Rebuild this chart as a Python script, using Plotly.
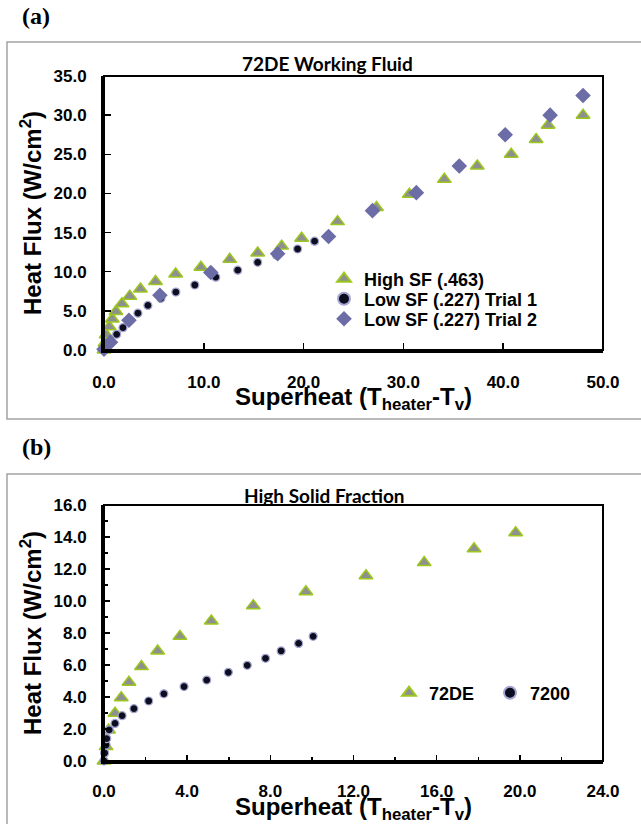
import plotly.graph_objects as go

W, H = 641, 824

# ---------------- data ----------------
# Panel (a): 72DE working fluid
high_sf_x = [0.0, 0.1, 0.22, 0.53, 0.83, 1.2, 1.8, 2.58, 3.65, 5.16, 7.18, 9.71, 12.6,
             15.4, 17.8, 19.8, 23.4, 27.3, 30.6, 34.1, 37.4, 40.8, 43.3, 44.5, 48.0]
high_sf_y = [0.0, 0.9, 1.94, 2.98, 3.96, 4.92, 5.9, 6.88, 7.79, 8.75, 9.71, 10.58, 11.58,
             12.4, 13.27, 14.27, 16.4, 18.2, 19.9, 21.8, 23.5, 25.0, 26.9, 28.7, 30.0]

low_sf_t1_x = [0.0, 0.5, 1.27, 1.9, 3.4, 4.4, 5.7, 7.2, 9.1, 11.2, 13.4, 15.4, 17.3, 19.4, 21.1]
low_sf_t1_y = [0.0, 1.0, 2.0, 2.85, 4.7, 5.7, 6.6, 7.4, 8.3, 9.3, 10.2, 11.2, 12.1, 12.9, 13.9]

low_sf_t2_x = [0.0, 0.65, 2.5, 5.6, 10.7, 17.4, 22.5, 26.9, 31.3, 35.6, 40.2, 44.7, 48.0]
low_sf_t2_y = [0.1, 1.0, 3.8, 7.0, 9.9, 12.3, 14.5, 17.8, 20.1, 23.5, 27.5, 30.0, 32.5]

# Panel (b): high solid fraction
de72_x = [0.0, 0.1, 0.22, 0.53, 0.83, 1.2, 1.8, 2.58, 3.65, 5.16, 7.18, 9.71, 12.6, 15.4, 17.8, 19.8]
de72_y = [0.0, 0.9, 1.94, 2.98, 3.96, 4.92, 5.9, 6.88, 7.79, 8.75, 9.71, 10.58, 11.58, 12.4, 13.27, 14.27]

w7200_x = [0.0, 0.03, 0.1, 0.13, 0.25, 0.53, 0.87, 1.44, 2.15, 2.88, 3.85, 4.94, 5.98, 6.89,
           7.77, 8.52, 9.36, 10.06]
w7200_y = [0.0, 0.5, 1.0, 1.4, 1.94, 2.35, 2.83, 3.27, 3.75, 4.2, 4.65, 5.06, 5.54, 5.98,
           6.42, 6.88, 7.35, 7.79]

# ---------------- styles ----------------
TRI = dict(symbol="triangle-up", size=12, color="#8f8f8f", line=dict(color="#9cc81e", width=1.5))
DOT = dict(symbol="circle", size=8, color="#0d0d20", line=dict(color="#a6a6d2", width=1.2))
DIA = dict(symbol="diamond", size=12, color="#6c6ca6", line=dict(color="#6c6ca6", width=0))

AX = "Liberation Sans"
TICKF = dict(family=AX, size=17, color="black", weight="bold")
LEGF = dict(family=AX, size=18, color="black", weight="bold")


def px_x(p):
    return p / W


def px_y(p):
    return 1 - p / H


fig = go.Figure()

fig.add_trace(go.Scatter(x=high_sf_x, y=high_sf_y, mode="markers", marker=TRI,
                         name="High SF (.463)", xaxis="x", yaxis="y", legend="legend",
                         cliponaxis=False))
fig.add_trace(go.Scatter(x=low_sf_t1_x, y=low_sf_t1_y, mode="markers", marker=DOT,
                         name="Low SF (.227) Trial 1", xaxis="x", yaxis="y", legend="legend2",
                         cliponaxis=False))
fig.add_trace(go.Scatter(x=low_sf_t2_x, y=low_sf_t2_y, mode="markers", marker=DIA,
                         name="Low SF (.227) Trial 2", xaxis="x", yaxis="y", legend="legend3",
                         cliponaxis=False))

fig.add_trace(go.Scatter(x=de72_x, y=de72_y, mode="markers", marker=TRI,
                         name="72DE", xaxis="x2", yaxis="y2", legend="legend4",
                         cliponaxis=False))
fig.add_trace(go.Scatter(x=w7200_x, y=w7200_y, mode="markers", marker=DOT,
                         name="7200", xaxis="x2", yaxis="y2", legend="legend5",
                         cliponaxis=False))

xdom = [px_x(104), px_x(603)]
ydom1 = [px_y(350), px_y(76)]
ydom2 = [px_y(761), px_y(505)]

common = dict(showgrid=False, zeroline=False, showline=True, linecolor="black",
              linewidth=3, ticks="inside", tickcolor="black", tickwidth=1.5,
              tickfont=TICKF, tickformat=".1f", fixedrange=True, automargin=False)

fig.update_layout(
    width=W, height=H,
    margin=dict(l=0, r=0, t=0, b=0, autoexpand=False),
    paper_bgcolor="white", plot_bgcolor="white",
    xaxis=dict(domain=xdom, range=[0, 50], dtick=10, tick0=0, anchor="y",
               ticklen=7, ticklabelstandoff=15, **common),
    yaxis=dict(domain=ydom1, range=[0, 35], dtick=5, tick0=0, anchor="x",
               ticklen=7, ticklabelstandoff=11, **common),
    xaxis2=dict(domain=xdom, range=[0, 24], dtick=4, tick0=0, anchor="y2",
                ticklen=6, ticklabelstandoff=13,
                minor=dict(dtick=2, ticks="inside", ticklen=4, tickcolor="black", tickwidth=1.5),
                **common),
    yaxis2=dict(domain=ydom2, range=[0, 16], dtick=2, tick0=0, anchor="x2",
                ticklen=6, ticklabelstandoff=11,
                minor=dict(dtick=1, ticks="inside", ticklen=4, tickcolor="black", tickwidth=1.5),
                **common),
    showlegend=True,
)

# one legend per entry so each item sits where the reference has it
leg_pos = {
    "legend": (324, 279),
    "legend2": (324, 299),
    "legend3": (324, 319),
    "legend4": (389, 693),
    "legend5": (490, 693),
}
for k, (lx, ly) in leg_pos.items():
    fig.update_layout({k: dict(x=px_x(lx), y=px_y(ly), xanchor="left", yanchor="middle",
                               font=LEGF, bgcolor="rgba(0,0,0,0)", borderwidth=0,
                               itemsizing="constant")})

shapes = []
# outer panel frames
shapes.append(dict(type="rect", xref="paper", yref="paper",
                   x0=px_x(7), x1=1.02, y0=px_y(419), y1=px_y(42),
                   line=dict(color="#a3a3a3", width=1.5), fillcolor="rgba(0,0,0,0)", layer="below"))
shapes.append(dict(type="rect", xref="paper", yref="paper",
                   x0=px_x(7), x1=1.02, y0=-0.02, y1=px_y(474),
                   line=dict(color="#a3a3a3", width=1.5), fillcolor="rgba(0,0,0,0)", layer="below"))
# plot frames (top/right borders)
for xr, yr in (("x", "y"), ("x2", "y2")):
    shapes.append(dict(type="rect", xref=xr + " domain", yref=yr + " domain",
                       x0=0, x1=1, y0=0, y1=1,
                       line=dict(color="black", width=2), fillcolor="rgba(0,0,0,0)", layer="above"))
fig.update_layout(shapes=shapes)

TITLEF = dict(family="Lato", size=19, color="black", weight="bold")
AXTF = dict(family=AX, size=24, color="black", weight="bold")
PANF = dict(family="Liberation Serif", size=24, color="black", weight="bold")

xtitle = "Superheat (T<sub>heater</sub>-T<sub>v</sub>)"
ytitle = "Heat Flux (W/cm<sup>2</sup>)"

ann = [
    dict(text="(a)", x=px_x(36), y=px_y(16), font=PANF),
    dict(text="(b)", x=px_x(36), y=px_y(447), font=PANF),
    dict(text="72DE Working Fluid", x=px_x(327), y=px_y(63), font=TITLEF),
    dict(text="High Solid Fraction", x=px_x(325), y=px_y(496), font=TITLEF),
    dict(text=xtitle, x=px_x(354), y=px_y(398), font=AXTF),
    dict(text=xtitle, x=px_x(354), y=px_y(808), font=AXTF),
    dict(text=ytitle, x=px_x(31), y=px_y(213), font=AXTF, textangle=-90),
    dict(text=ytitle, x=px_x(31), y=px_y(633), font=AXTF, textangle=-90),
]
for a in ann:
    a.update(xref="paper", yref="paper", showarrow=False, xanchor="center", yanchor="middle")
fig.update_layout(annotations=ann)

fig.write_html("out.html",
               config=dict(displayModeBar=False, staticPlot=True),
               post_script="document.body.style.margin='0px';document.body.style.overflow='hidden';")
